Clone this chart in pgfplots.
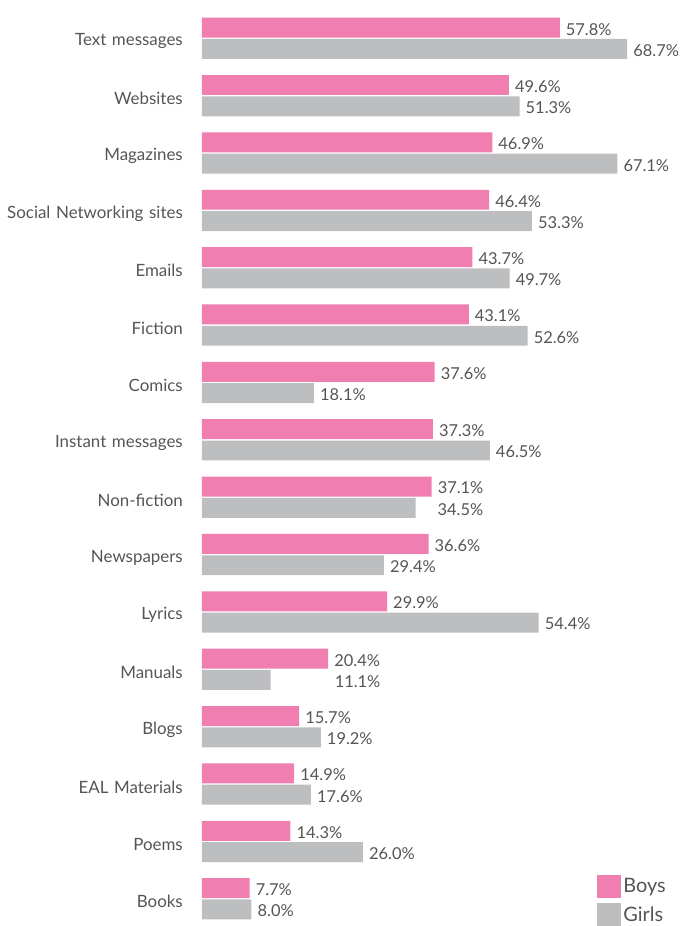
\documentclass[border=0pt]{standalone}
\usepackage{fontspec}
\setmainfont{Lato}
\usepackage{pgfplots}
\pgfplotsset{compat=1.18}
\usepackage{pgfplotstable}
\definecolor{boys}{HTML}{F07EB0}
\definecolor{girls}{HTML}{BDBEC0}
\definecolor{txt}{HTML}{555555}
\pgfplotstableread{
idx boys girls offb offg
0 57.8 68.7 0 0
1 49.6 51.3 0 0
2 46.9 67.1 0 0
3 46.4 53.3 0 0
4 43.7 49.7 0 0
5 43.1 52.6 0 0
6 37.6 18.1 0 0
7 37.3 46.5 0 0
8 37.1 34.5 0 16
9 36.6 29.4 0 0
10 29.9 54.4 0 0
11 20.4 11.1 0 58
12 15.7 19.2 0 0
13 14.9 17.6 0 0
14 14.3 26.0 0 0
15 7.7 8.0 0 0
}\datatable
\begin{document}
\begin{tikzpicture}
\begin{axis}[
  scale only axis, width=481bp, height=926bp,
  xmin=0, xmax=77.6, ymin=-0.667, ymax=15.453, y dir=reverse,
  axis line style={draw=none}, major tick length=0pt,
  xtick=\empty, ytick={0,...,15},
  yticklabels={Text messages, Websites, Magazines, Social Networking sites, Emails, Fiction, Comics, Instant messages, Non-fiction, Newspapers, Lyrics, Manuals, Blogs, EAL Materials, Poems, Books},
  yticklabel style={font=\fontsize{17}{20}\selectfont, text=txt, inner sep=0pt, xshift=-19bp, yshift=-3bp, text width=183bp, align=right},
  clip=false,
  xbar, bar width=20bp,
  /pgf/number format/assume math mode=true,
  nodes near coords={\pgfmathprintnumber[fixed,fixed zerofill,precision=1]{\pgfplotspointmeta}\%},
  every node near coord/.append style={font=\fontsize{16.5}{19}\selectfont, text=txt, anchor=west, inner sep=0pt, xshift=6bp, yshift=-1.5bp},
  legend style={draw=none, fill=none, at={(rel axis cs:0.823,0.054)}, anchor=north west, font=\fontsize{20}{23}\selectfont, text=txt, row sep=5bp, inner sep=0pt, cells={anchor=west}},
  legend image code/.code={\fill[#1] (0bp,-11.5bp) rectangle (24bp,11.5bp);},
]
\addplot[fill=boys, draw=none, bar shift=10.65bp,
  visualization depends on={\thisrow{offb} \as \myoff},
  every node near coord/.append style={xshift=\myoff bp}] table[x=boys, y=idx] {\datatable};
\addplot[fill=girls, draw=none, bar shift=-10.65bp,
  visualization depends on={\thisrow{offg} \as \myoff},
  every node near coord/.append style={xshift=\myoff bp}] table[x=girls, y=idx] {\datatable};
\legend{Boys, Girls}
\end{axis}
\end{tikzpicture}
\end{document}
